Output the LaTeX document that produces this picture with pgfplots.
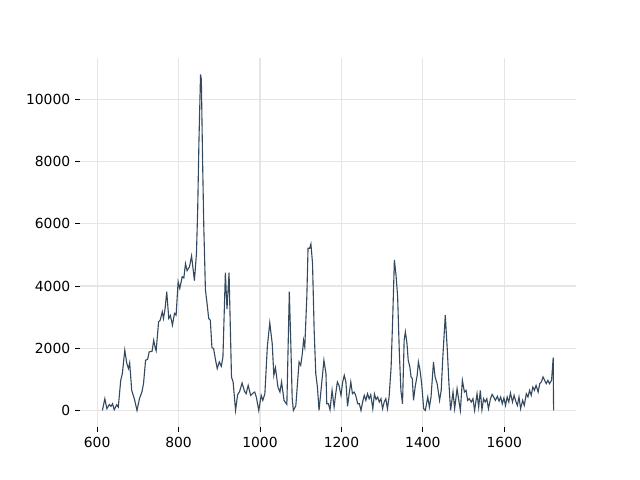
\documentclass[border=0pt]{standalone}
\usepackage{pgfplots}
\pgfplotsset{compat=1.18}
\usepackage{fontspec}
\setmainfont{DejaVu Sans}
\definecolor{line}{HTML}{34495E}
\definecolor{gridc}{HTML}{E5E5E5}
\begin{document}
\begin{tikzpicture}
\useasboundingbox (-57.6pt,-38.016pt) rectangle (403.2pt,307.584pt);
\begin{axis}[
  at={(0,0)}, anchor=south west,
  scale only axis, width=357.12pt, height=266.11pt,
  xmin=558, xmax=1776, ymin=-540, ymax=11347,
  axis line style={draw=none},
  tick pos=left, tick align=outside,
  major tick length=3.5pt,
  tick style={black, line width=0.6pt},
  xtick={600,800,1000,1200,1400,1600},
  ytick={0,2000,4000,6000,8000,10000},
  scaled ticks=false,
  grid=major, major grid style={gridc, line width=0.8pt},
  ticklabel style={font=\fontsize{10}{12}\selectfont},
  /pgf/number format/1000 sep={},
  /pgf/number format/assume math mode=true,
  clip=false,
]
\addplot[line, line width=0.8pt] coordinates {
(613,0)(619,376)(624,55)(630,190)(634,130)(638,215)(642,20)(648,180)(652,107)(658,968)
(662,1183)(668,1936)(673,1506)(677,1345)(680,1527)(685,645)(692,345)(698,0)(704,376)(710,591)
(714,860)(719,1613)(724,1645)(728,1882)(735,1903)(739,2258)(743,1990)(745,1914)(751,2849)(755,2903)
(760,3171)(763,2957)(767,3280)(771,3817)(776,2957)(780,3052)(785,2742)(790,3120)(794,3065)(799,4140)
(803,3925)(809,4300)(813,4260)(817,4720)(821,4494)(827,4623)(832,4968)(839,4172)(844,5055)(847,6452)
(850,8604)(854,10807)(856,10646)(859,8065)(862,5914)(866,3871)(870,3442)(874,2958)(878,2903)(882,2020)
(886,1990)(891,1613)(895,1345)(900,1559)(905,1420)(909,1720)(915,4430)(919,3260)(924,4430)(930,1076)
(934,914)(940,0)(945,500)(950,613)(956,882)(962,613)(966,538)(971,806)(977,484)(983,559)
(987,591)(991,430)(997,0)(1003,484)(1007,323)(1012,538)(1018,2043)(1024,2817)(1030,2150)(1034,1129)
(1038,1377)(1044,753)(1049,591)(1053,914)(1059,323)(1066,194)(1072,3817)(1076,2000)(1079,400)(1082,0)
(1088,150)(1092,860)(1096,1559)(1100,1452)(1104,1828)(1107,2258)(1110,2043)(1115,3657)(1118,5216)(1122,5216)
(1125,5355)(1129,4731)(1133,2581)(1137,1183)(1141,753)(1145,0)(1151,806)(1157,1613)(1162,1183)(1164,215)
(1168,215)(1172,20)(1177,645)(1182,107)(1186,538)(1190,914)(1194,806)(1199,484)(1203,914)(1207,1129)
(1211,914)(1215,130)(1219,538)(1223,914)(1227,538)(1231,591)(1235,484)(1240,215)(1244,215)(1248,0)
(1252,269)(1256,484)(1260,323)(1264,538)(1268,376)(1272,506)(1277,50)(1281,530)(1285,350)(1289,430)
(1293,269)(1297,376)(1301,55)(1305,269)(1309,376)(1313,55)(1317,430)(1322,1398)(1326,3011)(1330,4839)
(1334,4355)(1338,3657)(1342,1936)(1346,645)(1350,215)(1354,2258)(1357,2527)(1361,2150)(1364,1613)(1368,1398)
(1371,1076)(1374,1022)(1377,323)(1381,753)(1386,1129)(1389,1559)(1393,1290)(1397,860)(1402,55)(1406,0)
(1412,430)(1416,107)(1420,430)(1426,1559)(1430,1076)(1435,860)(1441,323)(1445,645)(1449,1720)(1455,3065)
(1460,1936)(1464,860)(1468,0)(1474,591)(1478,55)(1484,699)(1487,430)(1492,0)(1497,968)(1502,591)
(1506,645)(1510,323)(1514,376)(1519,269)(1523,376)(1527,0)(1533,538)(1537,107)(1541,645)(1545,20)
(1549,376)(1553,269)(1557,376)(1561,55)(1566,376)(1570,516)(1574,430)(1578,323)(1583,452)(1587,300)
(1591,430)(1595,215)(1599,398)(1603,161)(1607,430)(1611,269)(1615,559)(1620,269)(1624,484)(1628,300)
(1632,161)(1636,430)(1640,55)(1645,323)(1649,161)(1654,538)(1658,430)(1662,645)(1666,484)(1670,753)
(1674,645)(1678,806)(1683,591)(1687,860)(1691,914)(1695,1076)(1699,968)(1703,860)(1707,968)(1711,860)
(1716,968)(1720,1700)(1721,0)
};
\end{axis}
\end{tikzpicture}
\end{document}
